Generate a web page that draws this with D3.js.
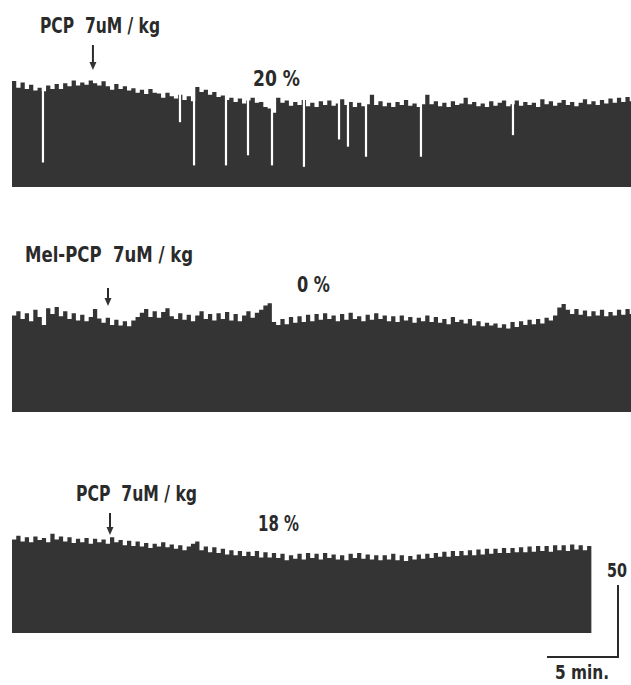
<!DOCTYPE html>
<meta charset="utf-8">
<style>
body { margin: 0; background: #fff; }
svg { display: block; }
.trace path { fill: #343434; }
.label { font-family: "DejaVu Sans Condensed", "Liberation Sans Narrow", sans-serif; font-weight: bold; fill: #2a2a2a; white-space: pre; }
.dose { font-size: 21px; }
.pct { font-size: 21px; }
.bar line, .arrow line { stroke: #2a2a2a; stroke-width: 2px; }
</style>
<svg width="631" height="685"></svg>
<script src="https://d3js.org/d3.v7.min.js"></script>
<script>

// one sample every 0.3 min, height in recorder units (scale bar = 50)
var stepMin = 0.3;

var pcpFirst = [73.6,69,72.5,68,71,67, 69,66.5,70.5,68,71.5,68,
  72,70,74,70.5,72.5,71,74,72,70.5,73.5, 70,67.5,71.5,68,70,67, 68.5,65.5,67.5,64.5,68,65.5,
  65,62,65.5,63,61.5,64,60.5,63,59.5, 69.5,66,67.5,64,66,62.5, 63.5,60.5,62,59,61.5,58,60,
  62,58.5,59,55.5,54.5,51.5,
  62,58.5,60,56.5,59,57,60.5,56,58.5,55.5,59.5,57,60,56.5,58,61,57,59,55.5,58.5,56,57.5,
  64, 57,59.5,56,58.5,55.5,59,57,60.5,56.5,58,55.5,57.5, 64,
  57.5,59.5,56,58.5,55.5,59.5,57,58,62,57.5,59,56,58,55.5,59.5,56.5,58.5,60,56,57.5,60,56.5,59,57,58.5,55.5,
  61,57.5,59.5,56.5,58.5,60.5,57,59,56,58.5,61,57.5,59.5,57,60.5,58,61.5,58.5,62,59,62.5,59.5,61];

var melPcp = [67,70,64.5,68.5,63,71,66,60.5,72,68,73,66.5,70,64.5,68.5,63.5,67.5,63,66,71.5,
  65,62,65.5,60.5,64,60,63,59.5,63.5,66,
  69,71.5,66,70,65.5,69.5,72,66.5,64.5,68.5,64,67.5,63,67,70,64.5,68,63.5,68.5,64.5,69.5,63.5,68,63,67,70,65.5,69,71,
  74,75.5,
  62.5,60.5,64.5,61,66,62,66.5,62.5,67.5,63,68,64,68.5,64.5,67,63,68,64,69,64.5,
  66.5,63,67.5,64,68.5,64.5,67,63,66.5,62.5,67,63.5,66,62,65.5,63,67,62.5,66,62,
  64.5,61,66,62.5,64,61.5,64.5,60,63,59.5,62,60,61.5,58.5,61,58,62.5,59,63,60.5,64,61,64.5,61.5,
  65.5,63.5,67,72.5,75,71,68,71.5,67.5,70.5,66.5,70,67,71,66.5,69.5,67,71,67.5,71.5,68,70];

var pcpSecond = [65,67.5,63.5,66.5,63,67,64.5,66,63,69,65,67,63.5,66.5,62.5,65.5,63,66,62,65.5,63,65,62,66.5,
  63,64.5,61,64,60.5,63.5,60,62.5,59,62,60,63,59.5,61.5,58.5,61,57.5,60,62,63.5,
  57.5,60,56,59.5,55.5,58.5,54.5,57.5,54,57,53.5,56.5,53.5,57,52.5,56,52.5,55.5,52,55,50.5,54,51.5,55,51,55.5,52,
  55,51,55.5,52,54.5,51,54,50.5,55,52,55.5,51.5,54.5,51,54,50.5,54,51,55,50.5,54,50,53.5,51,54.5,51.5,55,52,55.5,53,
  56.5,53,57,53.5,57,54,57.5,54,58,54.5,58.5,55,58.5,55.5,59,55.5,59,56,59.5,56,60,56.5,60.5,57,60.5,56.5,61,57.5,61,57,61.5,58,61,57.5,60.5,58.5];

// pauses (white gaps) in the first record: time in min, lowest level reached
var pauseTimes = [2.18, 11.83, 12.82, 15.07, 16.62, 18.31, 20.56, 23.03, 23.66, 24.93, 28.8, 35.28];
var pauseDepths = [17, 45, 15, 15, 22, 15, 14, 33, 28, 21, 21, 36];

var doseLabels = ["PCP  7uM / kg", "Mel-PCP  7uM / kg", "PCP  7uM / kg"];
var percentLabels = ["20 %", "0 %", "18 %"];
var injectTimes = [5.7, 6.76, 6.9];
var scaleMinutes = 5, scaleUnits = 50;

var svg = d3.select("svg");

var x = d3.scaleLinear().domain([0, 5]).range([0, 71]);
var y = d3.scaleLinear().domain([0, 50]).range([0, -72]);

var panels = [
  {values: pcpFirst, bottom: 187, label: [40, 33, 120], pct: [253, 86, 47], arrow: [-142, -117]},
  {values: melPcp, bottom: 412, label: [25, 262, 168], pct: [297, 292, 33], arrow: [-124, -106]},
  {values: pcpSecond, bottom: 633, label: [76, 501, 121], pct: [258, 531, 41], arrow: [-120, -98]}
];

var area = d3.area()
    .curve(d3.curveStepAfter)
    .x(function(d, i) { return x(i * stepMin); })
    .y0(y(0))
    .y1(function(d) { return y(d); });

panels.forEach(function(p, k) {
  var g = svg.append("g")
      .attr("class", "trace")
      .attr("transform", "translate(12," + p.bottom + ")");

  g.append("path").attr("d", area(p.values));

  if (k === 0) {
    g.selectAll("line.pause")
      .data(pauseTimes)
      .enter().append("line")
        .attr("class", "pause")
        .attr("x1", function(d) { return x(d); })
        .attr("x2", function(d) { return x(d); })
        .attr("y1", y(80))
        .attr("y2", function(d, i) { return y(pauseDepths[i]); })
        .attr("stroke", "#fff")
        .attr("stroke-width", 2.2);
  }

  // injection arrow
  var ax = x(injectTimes[k]);
  var a = g.append("g").attr("class", "arrow");
  a.append("line")
      .attr("x1", ax).attr("x2", ax)
      .attr("y1", p.arrow[0]).attr("y2", p.arrow[1] - 6);
  a.append("path")
      .attr("d", "M" + (ax - 3.5) + "," + (p.arrow[1] - 8) + "L" + (ax + 3.5) + "," + (p.arrow[1] - 8) + "L" + ax + "," + p.arrow[1] + "Z")
      .attr("fill", "#2a2a2a");

  svg.append("text")
      .attr("class", "label dose")
      .attr("x", p.label[0])
      .attr("y", p.label[1])
      .attr("textLength", p.label[2])
      .attr("lengthAdjust", "spacingAndGlyphs")
      .text(doseLabels[k]);

  svg.append("text")
      .attr("class", "label pct")
      .attr("x", p.pct[0])
      .attr("y", p.pct[1])
      .attr("textLength", p.pct[2])
      .attr("lengthAdjust", "spacingAndGlyphs")
      .text(percentLabels[k]);
});

// calibration bar
var bar = svg.append("g")
    .attr("class", "bar")
    .attr("transform", "translate(618,657)");

bar.append("line")
    .attr("x1", 0).attr("x2", 0)
    .attr("y1", 1).attr("y2", y(scaleUnits));
bar.append("line")
    .attr("x1", -x(scaleMinutes)).attr("x2", 1)
    .attr("y1", 0).attr("y2", 0);

bar.append("text")
    .attr("class", "label")
    .attr("x", -11).attr("y", -80)
    .style("font-size", "19px")
    .attr("textLength", 20)
    .attr("lengthAdjust", "spacingAndGlyphs")
    .text(scaleUnits);

bar.append("text")
    .attr("class", "label")
    .attr("x", -63).attr("y", 22)
    .style("font-size", "19px")
    .attr("textLength", 54)
    .attr("lengthAdjust", "spacingAndGlyphs")
    .text(scaleMinutes + " min.");

</script>
